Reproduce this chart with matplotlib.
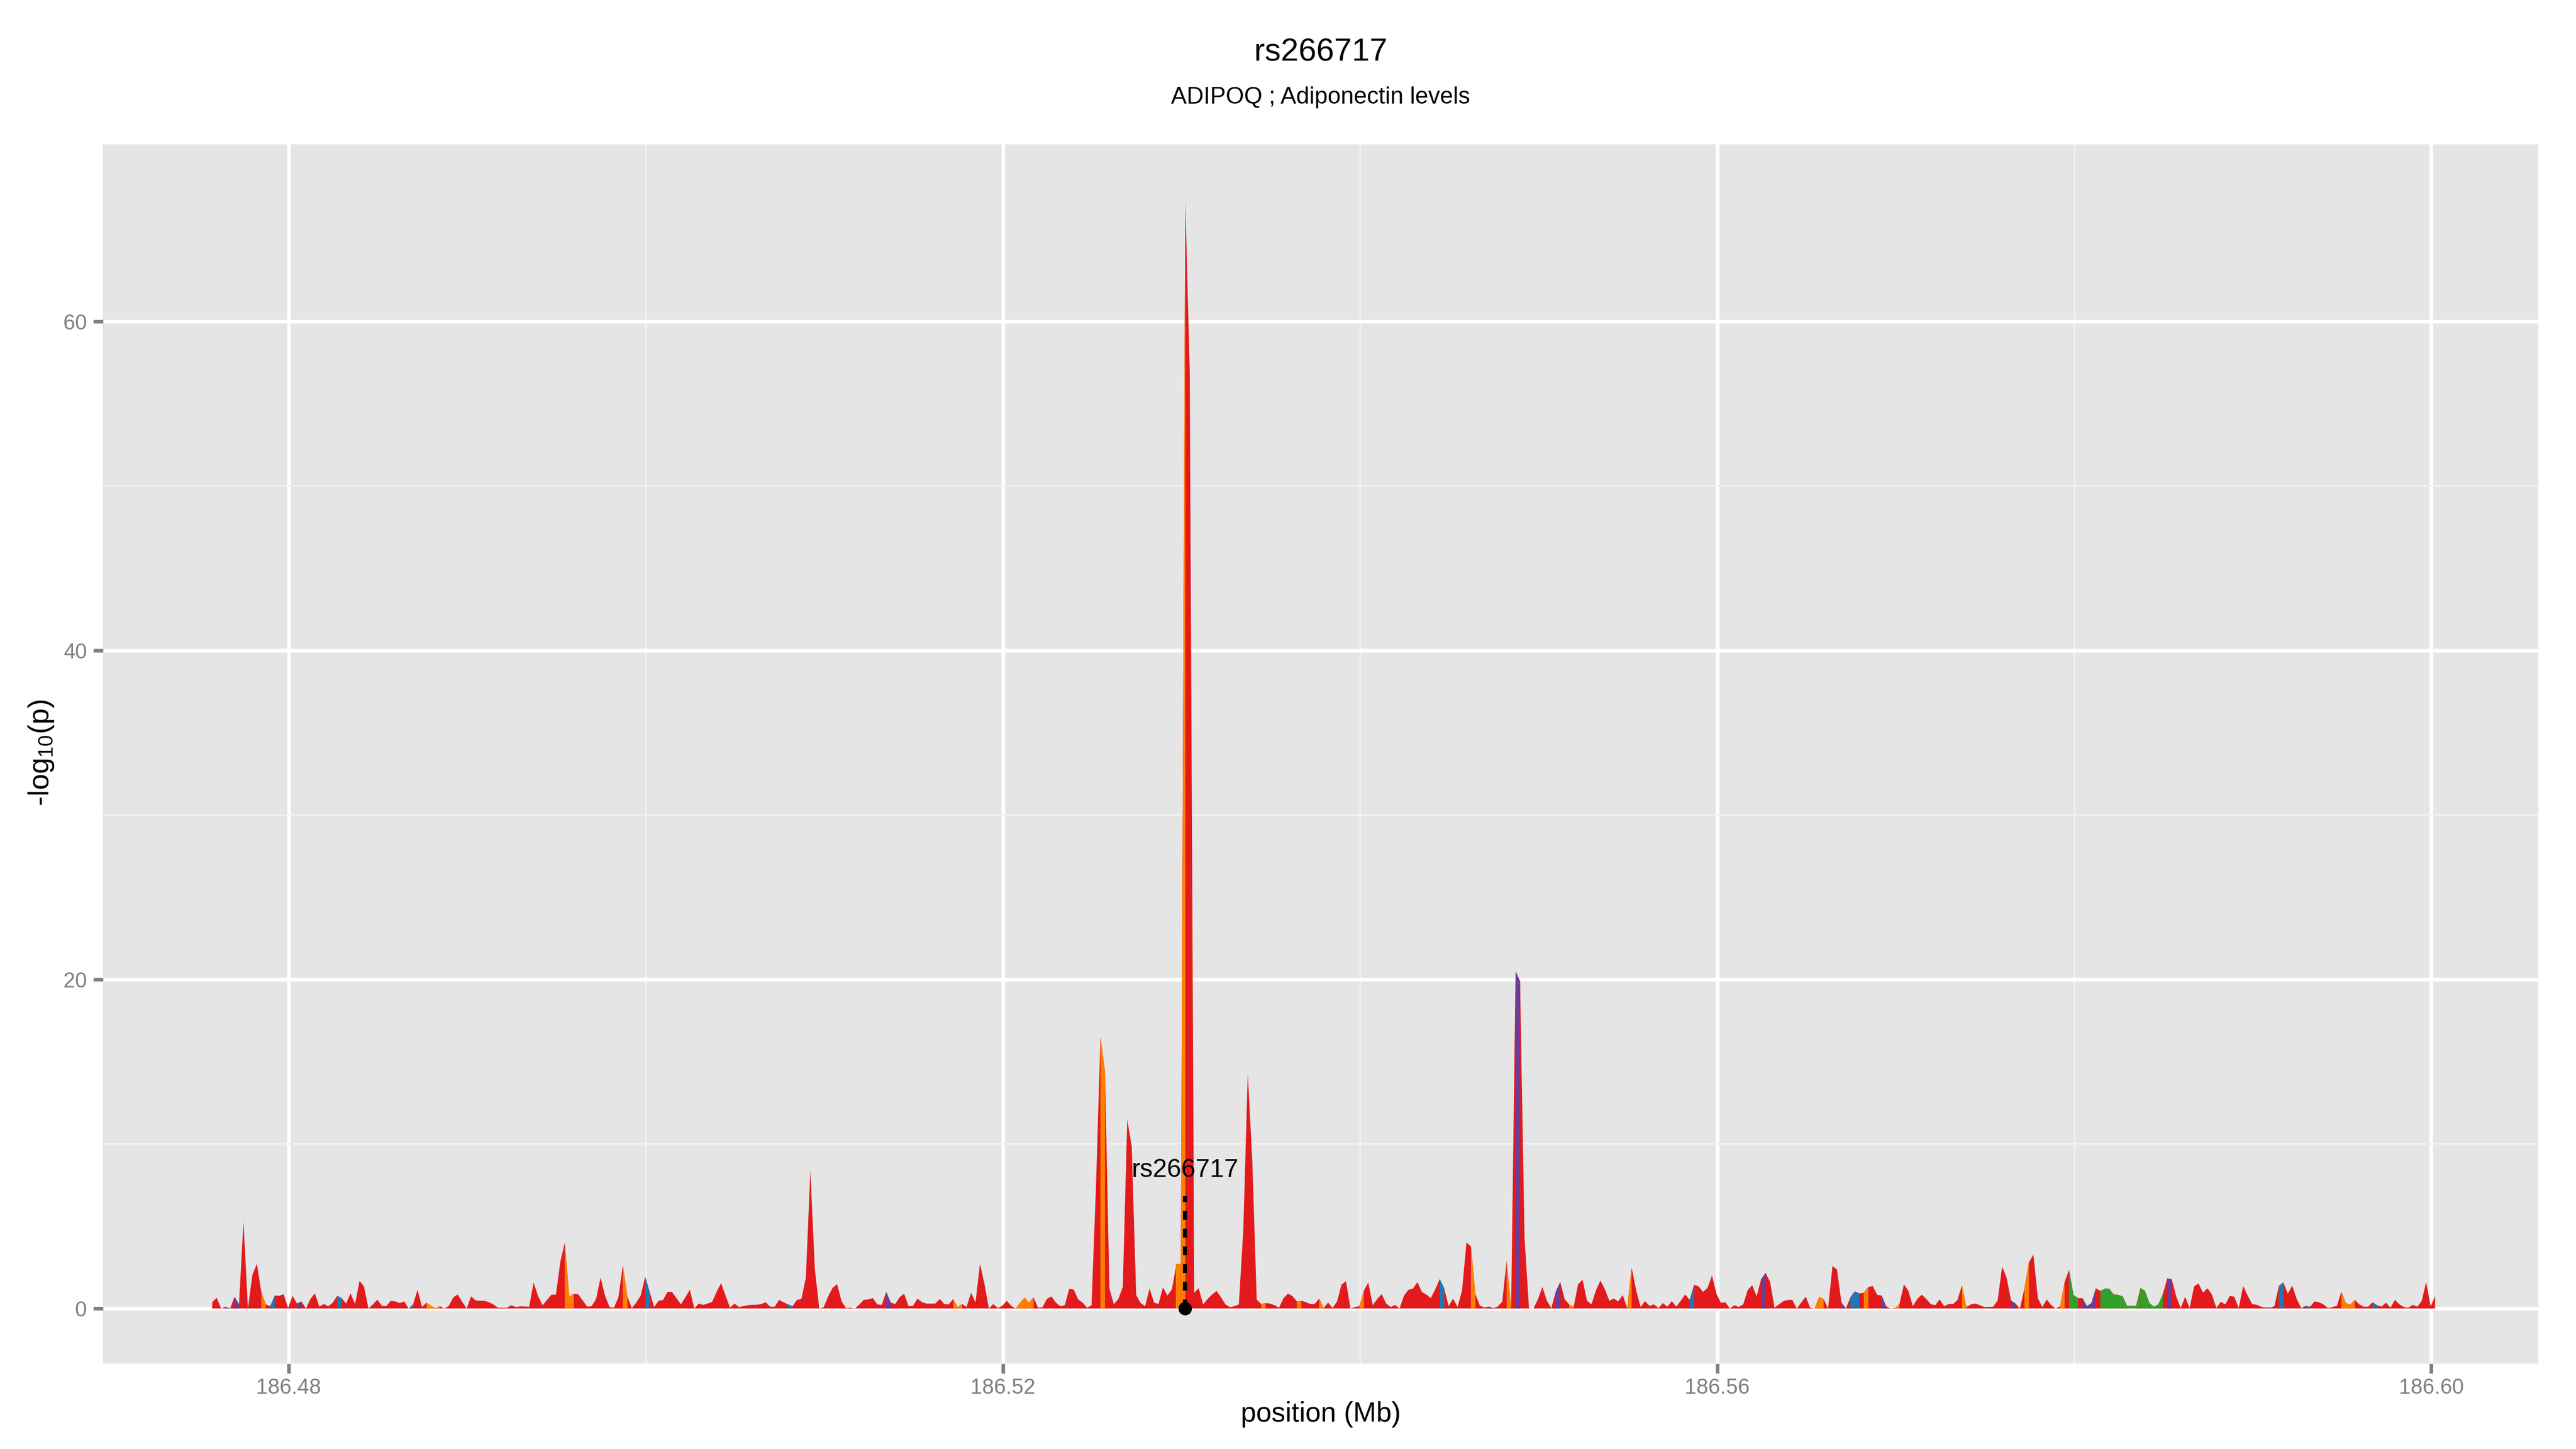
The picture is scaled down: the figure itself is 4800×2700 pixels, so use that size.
import numpy as np
import matplotlib
matplotlib.use('Agg')
import matplotlib.pyplot as plt
from matplotlib.ticker import FixedLocator, FormatStrFormatter

plt.rcParams['font.family'] = ['Liberation Sans', 'DejaVu Sans']
plt.rcParams['mathtext.fontset'] = 'custom'
plt.rcParams['mathtext.rm'] = 'Liberation Sans'
plt.rcParams['mathtext.default'] = 'regular'

# region is binned every 250 bp
bin_start = 186.4757
bin_width = 0.00025

# -log10(p) per bin
log_p = [
    0.38, 0.65, 0, 0.11, 0, 0.71, 0.25, 5.3, 0, 2.04,
    2.72, 1.01, 0.25, 0.14, 0.79, 0.77, 0.87, 0.03, 0.77, 0.3,
    0.43, 0, 0.58, 0.92, 0.11, 0.27, 0.14, 0.35, 0.77, 0.63,
    0.3, 0.92, 0.27, 1.68, 1.34, 0, 0.25, 0.54, 0.16, 0.14,
    0.47, 0.43, 0.33, 0.43, 0, 0.25, 1.14, 0.09, 0.36, 0.16,
    0.03, 0.14, 0, 0.16, 0.68, 0.85, 0.41, 0, 0.74, 0.49,
    0.47, 0.47, 0.38, 0.25, 0.05, 0.05, 0.05, 0.2, 0.09, 0.13,
    0.12, 0.11, 1.58, 0.76, 0.2, 0.52, 0.84, 0.84, 2.86, 4.02,
    0.71, 0.9, 0.87, 0.49, 0.11, 0.14, 0.58, 1.88, 0.79, 0.09,
    0.05, 0.68, 2.64, 0.74, 0.03, 0.36, 0.79, 1.93, 1.01, 0.09,
    0.47, 0.52, 1.01, 1.01, 0.63, 0.25, 0.68, 1.14, 0, 0.3,
    0.22, 0.3, 0.41, 1.01, 1.55, 0.79, 0.05, 0.3, 0.09, 0.14,
    0.2, 0.22, 0.23, 0.27, 0.38, 0.11, 0.11, 0.52, 0.38, 0.25,
    0.14, 0.52, 0.58, 1.88, 8.4, 2.42, 0, 0.08, 0.74, 1.26,
    1.48, 0.43, 0.03, 0.05, 0, 0.25, 0.53, 0.55, 0.63, 0.25,
    0.22, 1.01, 0.36, 0.27, 0.68, 0.9, 0.14, 0.16, 0.6, 0.39,
    0.3, 0.3, 0.3, 0.58, 0.27, 0.25, 0.58, 0.09, 0.27, 0.09,
    0.96, 0.36, 2.72, 1.5, 0, 0.27, 0.03, 0.16, 0.47, 0.16,
    0, 0.36, 0.66, 0.36, 0.68, 0.05, 0.08, 0.58, 0.74, 0.36,
    0.14, 0.2, 1.2, 1.15, 0.55, 0.36, 0.05, 0.2, 7.5, 16.5,
    14.45, 1.22, 0.26, 0.58, 1.31, 11.5, 9.85, 0.82, 0.33, 0.14,
    1.22, 0.36, 0.27, 1.28, 0.79, 1.17, 2.69, 2.69, 67.4, 56.9,
    0.95, 1.24, 0.25, 0.58, 0.85, 1.07, 0.68, 0.25, 0.08, 0.14,
    0.25, 4.8, 14.3, 9.05, 0.55, 0.27, 0.33, 0.3, 0.2, 0.05,
    0.63, 0.9, 0.76, 0.43, 0.47, 0.39, 0.27, 0.28, 0.6, 0.03,
    0.36, 0.03, 0.43, 1.45, 1.66, 0, 0.09, 0.14, 1.07, 1.58,
    0.2, 0.58, 0.87, 0.3, 0.09, 0.22, 0, 0.79, 1.14, 1.21,
    1.61, 1.01, 0.85, 0.63, 1.17, 1.79, 1.23, 0.14, 0.6, 0.09,
    1.1, 4.02, 3.76, 0.87, 0.17, 0.06, 0.12, 0.02, 0.12, 0.41,
    2.9, 0, 20.5, 19.9, 4.3, 0.02, 0, 0.56, 1.31, 0.48,
    0.02, 1.03, 1.61, 0.56, 0.25, 0.09, 1.47, 1.75, 0.47, 0.25,
    1.1, 1.7, 1.17, 0.47, 0.61, 0.43, 0.82, 0.03, 2.48, 1.12,
    0.09, 0.45, 0.16, 0.25, 0.03, 0.33, 0.11, 0.45, 0.11, 0.47,
    0.85, 0.52, 1.45, 1.34, 1.01, 1.25, 2.01, 0.9, 0.34, 0.38,
    0, 0.2, 0.09, 0.25, 1.12, 1.42, 0.74, 1.77, 2.17, 1.63,
    0.05, 0.25, 0.45, 0.52, 0.52, 0, 0.36, 0.72, 0.05, 0,
    0.71, 0.58, 0, 2.59, 2.37, 0.36, 0, 0.68, 1.04, 0.92,
    0.96, 1.3, 1.37, 0.83, 0.79, 0.14, 0, 0.03, 0.27, 1.47,
    1.07, 0.14, 0.58, 0.84, 0.58, 0.27, 0.2, 0.55, 0.14, 0.27,
    0.27, 0.52, 1.41, 0.09, 0.25, 0.3, 0.2, 0.09, 0.09, 0.11,
    0.49, 2.55, 1.88, 0.49, 0.3, 0, 1.23, 2.8, 3.29, 0.63,
    0.09, 0.55, 0.2, 0, 0.14, 1.61, 2.35, 0.82, 0.63, 0.63,
    0.14, 0.33, 1.23, 1.07, 1.2, 1.2, 0.85, 0.83, 0.74, 0.16,
    0.16, 0.16, 1.25, 1.07, 0.33, 0.11, 0.25, 0.87, 1.83, 1.77,
    0.74, 0.03, 0.71, 0.03, 1.34, 1.53, 0.96, 1.23, 0.85, 0.03,
    0.41, 0.25, 0.76, 0.72, 0.03, 1.37, 0.79, 0.27, 0.23, 0.11,
    0.05, 0.05, 0.14, 1.37, 1.59, 0.9, 1.39, 0.58, 0.03, 0.16,
    0.11, 0.43, 0.38, 0.25, 0.03, 0.09, 0.16, 1.03, 0.33, 0.23,
    0.52, 0.25, 0.11, 0.11, 0.38, 0.2, 0.11, 0.36, 0.05, 0.52,
    0.25, 0.09, 0.05, 0.22, 0.11, 0.45, 1.61, 0.14, 0.74,
]

# LD class of each bin (colours the stretch up to the next bin)
ld_class = (
    "rrrbrprrrr" "rorbrrrrrp" "rrrrrrrrbr" "rrrrrrrrrr" "rrrrbrrroo"
    "orrrrrrrrr" "rrrrrrrrrr" "rrrrrrrrro" "orrrrrrrrr" "rrorrrrbrr"
    "rrrrrrrrrr" "rrrrrrrrrr" "rrrrrrrrrb" "rrrrrrrrrr" "rrrrrrrrrr"
    "rprrrrrrrr" "rrrrrroorr" "rrrrrrrrrr" "oooorrrrrr" "rrrrrrrrro"
    "rrrrrrrrrr" "rrrrrroorr" "rrrrrrrrrr" "rrrrrorrrr" "rrrorrrror"
    "rrrrrrrorr" "rrrrrrrrrr" "rrrrrbrrrr" "rrorrrprrr" "orprrrrrrr"
    "rprrorrrrr" "rrrrrrrorr" "rrrrrrrrrr" "rbrrrrrrrr" "rrrrrrrprr"
    "rrrrrrrrro" "orrrrprbbr" "orrrproorr" "rrrrrrrrrr" "rrorrrrrrr"
    "rrrprrorrr" "rrrrorggrp" "pprggggggg" "gggggggrpr" "rrrrrrrrrr"
    "rrrrrrrrrr" "prrbrrrrrb" "rrrrrrrooo" "rrrrbrrrrr" "rrrrrrrrr"
)
ld_colors = {'r': '#E31A1C', 'o': '#FF7F00', 'b': '#1F78B4',
             'p': '#6A3D9A', 'g': '#33A02C'}

snp_name = 'rs266717'
snp_pos = 186.5302
snp_stem_top = 6.8
snp_label_y = 8.4
subtitle = 'ADIPOQ ; Adiponectin levels'

x_major = [186.48, 186.52, 186.56, 186.60]
x_minor = [186.50, 186.54, 186.58]
y_major = [0, 20, 40, 60]
y_minor = [10, 30, 50]
x_limits = (186.4696, 186.6060)

assert len(log_p) == len(ld_class)
vals = np.array(log_p)
pos = bin_start + bin_width * np.arange(len(vals))

fig = plt.figure(figsize=(16, 9), dpi=300)
ax = fig.add_axes([0.0400, 0.0589, 0.9454, 0.8415])
ax.set_facecolor('#E5E5E5')

# red base area, then the other LD classes on top
ax.fill_between(pos, 0, vals, color=ld_colors['r'], lw=0, zorder=2)
for i in range(len(vals) - 1):
    c = ld_class[i]
    if c != 'r':
        ax.fill_between(pos[i:i + 2], 0, vals[i:i + 2], color=ld_colors[c],
                        lw=0, zorder=3)

# marker for the lead SNP
ax.plot([snp_pos, snp_pos], [0, snp_stem_top], color='black', lw=1.8,
        dashes=(2.2, 2.2), zorder=4)
ax.plot([snp_pos], [0], 'o', color='black', ms=5, zorder=5)
ax.text(snp_pos, snp_label_y, snp_name, ha='center', va='center',
        fontsize=11.5, color='black', zorder=6)

ymax = vals.max()
ax.set_xlim(*x_limits)
ax.set_ylim(-0.05 * ymax, 1.05 * ymax)

ax.xaxis.set_major_locator(FixedLocator(x_major))
ax.xaxis.set_minor_locator(FixedLocator(x_minor))
ax.yaxis.set_major_locator(FixedLocator(y_major))
ax.yaxis.set_minor_locator(FixedLocator(y_minor))
ax.xaxis.set_major_formatter(FormatStrFormatter('%.2f'))

ax.set_axisbelow(True)
ax.grid(which='major', color='white', lw=1.6)
ax.grid(which='minor', color='#F2F2F2', lw=0.75)
for s in ax.spines.values():
    s.set_visible(False)

ax.tick_params(which='major', length=4.25, width=1.6, color='#7F7F7F',
               labelcolor='#7F7F7F', labelsize=9.5)
ax.tick_params(axis='x', which='major', pad=2)
ax.tick_params(axis='y', which='major', pad=3)
ax.tick_params(which='minor', length=0)

fig.text(0.5127, 1 - 98 / 2700, snp_name, ha='center', va='center',
         fontsize=14.3)
fig.text(0.5127, 1 - 181 / 2700, subtitle, ha='center', va='center',
         fontsize=10.5)
fig.text(0.5127, 1 - 2636 / 2700, 'position (Mb)', ha='center',
         va='center', fontsize=12.4)
fig.text(0.016, 0.4807, r'-log$_{10}$(p)', ha='center', va='center',
         rotation=90, fontsize=13)

fig.savefig('out.png', dpi=300, facecolor='white')
